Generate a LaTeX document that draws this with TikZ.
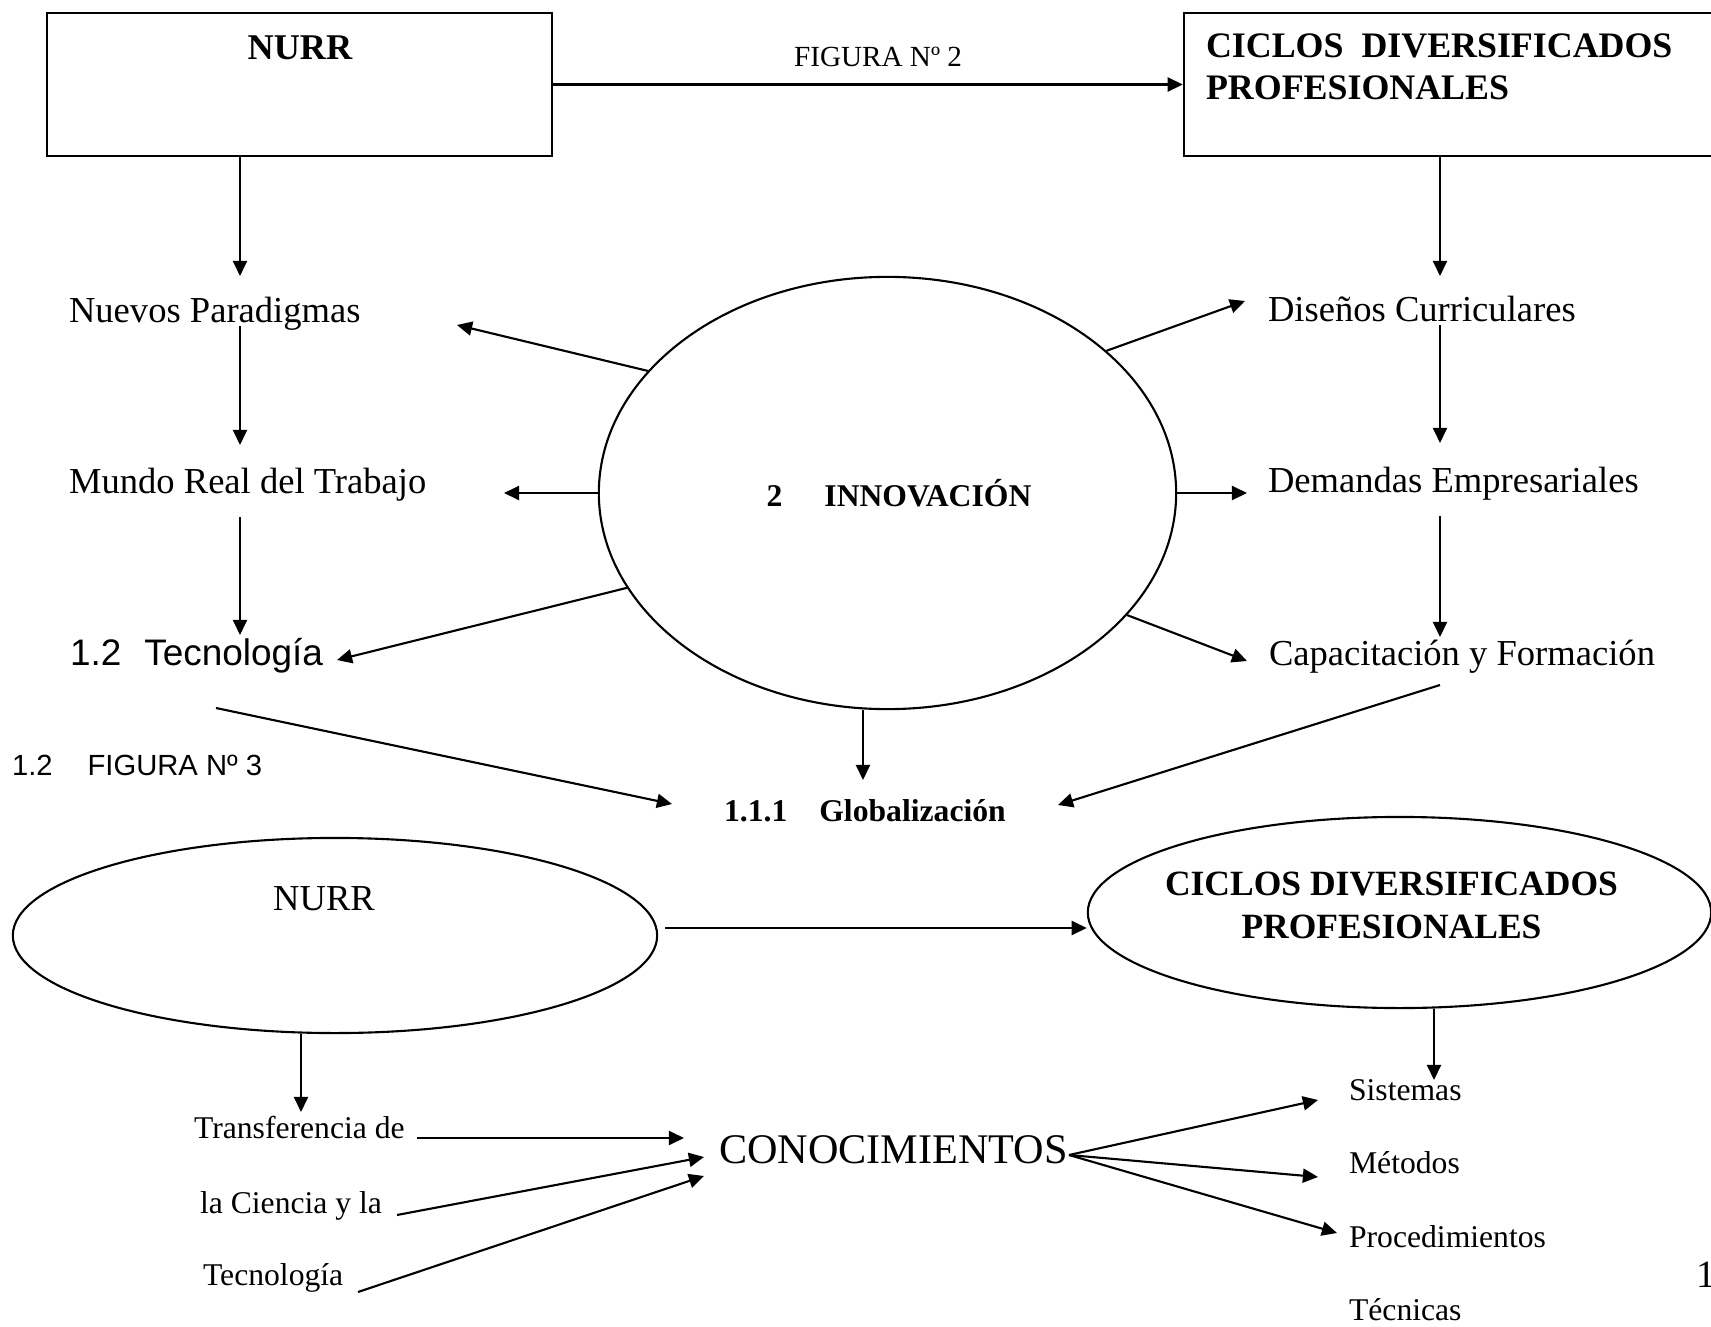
\documentclass[tikz,border=0pt]{standalone}
\usepackage{fontspec}
\setmainfont{Liberation Serif}
\newfontfamily\arialfont{Liberation Sans}
\usetikzlibrary{arrows.meta,shapes.geometric}

\tikzset{
  arr/.style={-{Triangle[length=4.3pt,width=4pt]}},
  txt/.style={anchor=base west, inner sep=0pt},
  ctxt/.style={anchor=base, inner sep=0pt},
  lab/.style={txt, font=\fontsize{10.4}{12}\selectfont},
  small/.style={txt, font=\fontsize{9}{11}\selectfont},
  shapebox/.style={draw, rectangle, inner sep=0pt},
  shapeell/.style={draw, ellipse, inner sep=0pt},
}

\begin{document}
\begin{tikzpicture}[x=0.01cm, y=-0.01cm, line width=0.6pt]
    \useasboundingbox (0,0) rectangle (1711,1327);

    % FIGURA 2
    \node[shapebox, minimum width=5.05cm, minimum height=1.43cm] (nurrbox) at (299.5,84.5) {};
    \node[ctxt, font=\fontsize{10.3}{12}\selectfont\bfseries] (nurrboxtxt) at (300,59) {NURR};
    \node[shapebox, minimum width=5.30cm, minimum height=1.43cm] (cicbox) at (1449,84.5) {};
    % base = last line
    \node[txt, align=left, font=\fontsize{10.2}{11.95}\selectfont\bfseries] (cicboxtxt) at (1205,100) {CICLOS\ \ DIVERSIFICADOS\\PROFESIONALES};
    \node[txt, font=\fontsize{8.3}{10}\selectfont] (fig2) at (793,67) {FIGURA Nº 2};

    \node[shapeell, minimum width=5.77cm, minimum height=4.32cm, font=\fontsize{9}{11}\selectfont\bfseries] (innov) at (887.5,493) {\hspace{0.23cm}2\hspace{0.42cm}INNOVACIÓN};

    \node[lab] (nuevos) at (68,322) {Nuevos Paradigmas};
    \node[lab] (mundo) at (68,493) {Mundo Real del Trabajo};
    \node[txt, font=\arialfont\fontsize{10.5}{12}\selectfont] (tecno) at (69,665) {1.2\hspace{0.23cm}Tecnología};
    \node[lab] (disenos) at (1267,321) {Diseños Curriculares};
    \node[lab] (demandas) at (1267,492) {Demandas Empresariales};
    \node[lab] (capac) at (1268,665) {Capacitación y Formación};
    \node[txt, font=\fontsize{9}{11}\selectfont\bfseries] (glob) at (723,821) {1.1.1\hspace{0.32cm}Globalización};

    \coordinate (npTip)  at (240,276);
    \coordinate (npFoot) at (240,326);
    \coordinate (mrTip)  at (240,445);
    \coordinate (mrFoot) at (240,517);
    \coordinate (tecTip) at (240,635);
    \coordinate (dcTip)  at (1440,276);
    \coordinate (dcFoot) at (1440,325);
    \coordinate (deTip)  at (1440,443);
    \coordinate (deFoot) at (1440,516);
    \coordinate (cfTip)  at (1440,637);
    \coordinate (cfFoot) at (1440,685);
    \coordinate (tecFoot) at (216,708);
    \coordinate (globL)  at (672,804);
    \coordinate (globT)  at (863,780);
    \coordinate (globR)  at (1058,805);
    \coordinate (npArr)  at (457,325);
    \coordinate (mrArr)  at (504,493);
    \coordinate (tecArr) at (337,660);
    \coordinate (dcArr)  at (1245,301);
    \coordinate (deArr)  at (1247,493);
    \coordinate (cfArr)  at (1247,661);

    \draw[arr] (nurrbox.east) -- (cicbox.west);
    \draw[arr] (nurrbox.south -| npTip) -- (npTip);
    \draw[arr] (npFoot) -- (mrTip);
    \draw[arr] (mrFoot) -- (tecTip);
    \draw[arr] (cicbox.south -| dcTip) -- (dcTip);
    \draw[arr] (dcFoot) -- (deTip);
    \draw[arr] (deFoot) -- (cfTip);
    \draw[arr] (cfFoot) -- (globR);
    \draw[arr] (tecFoot) -- (globL);
    \draw[arr] (globT |- innov.south) -- (globT);
    \draw[arr] (innov.153.5) -- (npArr);
    \draw[arr] (innov.west) -- (mrArr);
    \draw[arr] (innov.200) -- (tecArr);
    \draw[arr] (innov.33.8) -- (dcArr);
    \draw[arr] (innov.east) -- (deArr);
    \draw[arr] (innov.333.4) -- (cfArr);

    % FIGURA 3
    \node[txt, font=\arialfont\fontsize{8.3}{10}\selectfont] (fig3) at (11,775) {1.2\hspace{0.35cm}FIGURA Nº 3};

    \node[shapeell, minimum width=6.44cm, minimum height=1.95cm] (nurrell) at (335,935.5) {};
    \node[ctxt, font=\fontsize{10.4}{12}\selectfont] (nurrelltxt) at (324,910) {NURR};
    \node[shapeell, minimum width=6.23cm, minimum height=1.91cm] (cicell) at (1399.5,912.5) {};
    \node[ctxt, align=center, font=\fontsize{10.1}{12.2}\selectfont\bfseries] (cicelltxt) at (1391.5,938) {CICLOS DIVERSIFICADOS\\PROFESIONALES};

    \node[small] (trans) at (193,1138) {Transferencia de};
    \node[small] (ciencia) at (199,1213) {la Ciencia y la};
    \node[small] (tecb) at (202,1285) {Tecnología};
    \node[txt, font=\fontsize{12}{14}\selectfont] (conoc) at (718,1163) {CONOCIMIENTOS};
    \node[small] (sis) at (1348,1100) {Sistemas};
    \node[small] (met) at (1348,1173) {Métodos};
    \node[small] (proc) at (1348,1247) {Procedimientos};
    \node[small] (tecn) at (1348,1320) {Técnicas};
    \node[txt, font=\fontsize{11}{13}\selectfont] (pagina) at (1695,1287) {1};

    \coordinate (ncStart) at (665,928);
    \coordinate (trTip)  at (301,1112);
    \coordinate (sisTip) at (1434,1080);
    \coordinate (t1) at (417,1138);
    \coordinate (k1) at (684,1138);
    \coordinate (t2) at (397,1215);
    \coordinate (k2) at (704,1157);
    \coordinate (t3) at (358,1292);
    \coordinate (k3) at (704,1176);
    \coordinate (kout) at (1069,1155);
    \coordinate (s1) at (1318,1100);
    \coordinate (s2) at (1318,1177);
    \coordinate (s3) at (1337,1233);

    \draw[arr] (ncStart) -- (ncStart -| cicell.west);
    \draw[arr] (trTip |- nurrell.south) -- (trTip);
    \draw[arr] (sisTip |- cicell.south) -- (sisTip);
    \draw[arr] (t1) -- (k1);
    \draw[arr] (t2) -- (k2);
    \draw[arr] (t3) -- (k3);
    \draw[arr] (kout) -- (s1);
    \draw[arr] (kout) -- (s2);
    \draw[arr] (kout) -- (s3);
\end{tikzpicture}
\end{document}
